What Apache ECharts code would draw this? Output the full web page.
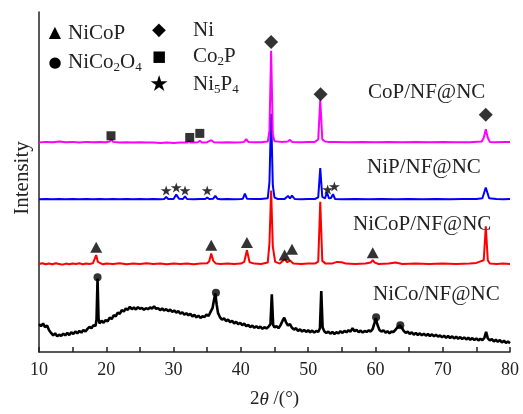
<!DOCTYPE html>
<html>
<head>
<meta charset="utf-8">
<script src="https://cdn.jsdelivr.net/npm/echarts@6/dist/echarts.min.js"></script>
<style>
  html, body { margin: 0; padding: 0; background: #fff; }
  #xrd-chart { width: 523px; height: 414px; }
</style>
</head>
<body>
<div id="xrd-chart"></div>
<script>
/* -----------------------------
   XRD patterns - stacked offsets
   ----------------------------- */

// x ticks (2theta)
const X_TICKS = [10, 20, 30, 40, 50, 60, 70, 80];

// CoP/NF@NC (magenta)
const copData = [
  [10,61.6],[11,61.8],[12,61.7],[13,61.9],[14,61.7],[15,61.8],[16,61.6],[17,61.8],[18,61.7],[19,61.8],
  [20,61.7],[20.5,61.9],[20.75,62.6],[21,61.8],[22,61.6],[23,61.7],[24,61.6],[25,61.7],[26,61.6],[27,61.6],
  [28,61.5],[29,61.6],[30,61.5],[31,61.6],[32,61.6],[32.3,62.0],[32.6,61.6],[33.6,61.7],[33.9,62.1],[34.2,61.6],
  [35,61.7],[35.6,62.3],[36,61.7],[37,61.6],[38,61.7],[39,61.6],[40,61.7],[40.5,61.8],[40.8,62.6],[41.1,61.8],
  [42,61.7],[43,61.7],[44,61.9],[44.25,65],[44.5,88.6],[44.75,64],[45,62],[46,61.8],[47,61.9],[47.3,62.4],
  [47.6,61.8],[49,61.7],[50,61.8],[51,61.8],[51.5,62.5],[51.8,74.1],[52.1,62.6],[52.5,61.9],[53,61.8],[54,61.8],
  [56,61.7],[58,61.8],[60,61.7],[62,61.8],[64,61.7],[66,61.8],[68,61.7],[70,61.8],[72,61.7],[74,61.7],
  [75.8,61.9],[76.1,63],[76.4,65.5],[76.7,63],[77,61.8],[78,61.7],[79,61.8],[80,61.8]
];

// NiP/NF@NC (blue)
const nipData = [
  [10,44.9],[11,45.0],[12,44.9],[13,45.0],[14,44.9],[15,45.0],[16,44.9],[17,45.0],[18,44.9],[19,45.0],
  [20,44.9],[21,45.0],[22,44.9],[23,45.0],[24,44.9],[25,45.0],[26,44.9],[27,45.0],[28,44.9],[28.6,45.0],
  [28.9,45.6],[29.2,45.0],[30,45.0],[30.4,46.3],[30.8,45.1],[31.4,45.0],[31.7,45.8],[32,45.0],[33,44.9],[34,45.0],
  [34.7,45.0],[35,45.4],[35.3,45.0],[35.9,45.1],[36.2,45.9],[36.5,45.1],[37,44.9],[38,45.0],[39,44.9],[40,45.0],
  [40.3,45.1],[40.6,46.6],[40.9,45.1],[42,45.0],[43,45.0],[44,45.2],[44.25,50],[44.5,70.1],[44.75,49],[45,45.4],
  [45.5,45.0],[46.5,45.0],[47,45.9],[47.3,45.2],[47.6,46.0],[48,45.0],[49,44.9],[50,45.0],[51,45.0],[51.5,45.5],
  [51.8,54.1],[52.1,45.6],[52.5,45.2],[52.8,46.9],[53.1,45.2],[53.4,45.3],[53.7,46.4],[54,45.0],[55,44.9],[57,45.0],
  [59,44.9],[61,45.0],[63,44.9],[65,45.0],[67,44.9],[69,45.0],[71,44.9],[73,45.0],[75,45.0],[75.9,45.2],
  [76.4,48.4],[76.9,45.2],[78,45.0],[79,44.9],[80,45.0]
];

// NiCoP/NF@NC (red)
const nicopData = [
  [10,25.9],[10.5,26.1],[11,25.8],[11.5,26.0],[12,25.8],[12.5,26.1],[13,25.9],[13.5,25.7],[14,26.0],[14.5,25.8],
  [15,26.0],[15.5,25.9],[16,26.1],[16.5,25.8],[17,26.0],[17.5,25.9],[18,26.1],[18.25,26.6],[18.5,28.5],[18.75,26.5],
  [19,26.0],[19.5,25.8],[20,26.0],[21,25.9],[22,26.1],[23,25.8],[24,26.0],[25,25.9],[26,26.1],[27,25.9],
  [28,26.0],[29,25.8],[30,26.0],[31,25.9],[32,26.0],[33,25.8],[34,26.0],[35,26.1],[35.3,26.7],[35.6,29.0],
  [35.9,26.8],[36.3,26.0],[37,25.9],[38,26.0],[39,25.9],[40,26.0],[40.5,26.5],[40.9,29.9],[41.3,26.4],[42,26.0],
  [43,25.9],[44,26.3],[44.25,32],[44.5,47.5],[44.75,31],[45.1,26.5],[45.8,26.0],[46.5,27.3],[46.9,26.4],[47.3,26.9],
  [47.8,26.0],[49,25.9],[50,26.0],[51,26.0],[51.5,26.6],[51.8,44.2],[52.1,26.8],[52.6,26.0],[53.5,26.0],[54.3,26.5],
  [55,26.4],[55.6,26.0],[57,25.9],[58.5,26.0],[59.3,26.3],[59.6,27.0],[59.9,26.3],[60.5,25.9],[62,26.0],[63,26.3],
  [64,25.9],[66,26.0],[68,25.9],[70,26.0],[72,25.9],[74,26.0],[75,26.2],[76.1,27],[76.4,37.0],[76.7,27],
  [77,26.0],[78,25.9],[79,26.0],[80,25.9]
];

// NiCo/NF@NC (black, noisy)
const nicoData = [
  [10.0,8.2],[10.3,7.6],[10.6,8.4],[10.9,7.3],[11.2,7.8],[11.5,6.4],[11.8,5.6],[12.1,4.9],[12.4,5.5],[12.7,4.6],
  [13.0,5.1],[13.3,4.7],[13.6,5.4],[13.9,4.9],[14.2,5.6],[14.5,5.0],[14.8,5.8],[15.1,5.3],[15.4,6.0],[15.7,5.5],
  [16.0,6.2],[16.3,5.7],[16.6,6.5],[16.9,6.0],[17.2,6.8],[17.5,7.4],[17.8,7.0],[18.1,7.9],[18.4,7.6],[18.55,9.5],
  [18.7,21.6],[18.85,9.8],[19.0,8.4],[19.3,9.2],[19.6,8.6],[19.9,9.4],[20.2,9.0],[20.5,10.1],[20.8,9.7],[21.1,10.8],
  [21.4,10.5],[21.7,11.6],[22.0,11.2],[22.3,12.3],[22.6,11.9],[22.9,12.8],[23.2,12.4],[23.5,13.3],[23.8,12.6],[24.1,13.1],
  [24.4,12.5],[24.7,13.2],[25.0,12.7],[25.3,13.0],[25.6,12.4],[25.9,12.9],[26.2,12.6],[26.5,13.1],[26.8,12.8],[27.1,13.4],
  [27.4,12.7],[27.7,12.9],[28.0,12.3],[28.3,12.8],[28.6,12.2],[28.9,12.6],[29.2,12.0],[29.5,12.5],[29.8,11.8],[30.1,12.2],
  [30.4,11.6],[30.7,12.0],[31.0,11.3],[31.3,11.7],[31.6,11.0],[31.9,11.4],[32.2,10.8],[32.5,11.2],[32.8,10.5],[33.1,10.9],
  [33.4,10.2],[33.7,10.7],[34.0,10.0],[34.3,10.5],[34.6,10.3],[34.9,11.0],[35.2,10.6],[35.5,11.8],[35.8,13.0],[36.0,15.2],
  [36.2,17.2],[36.4,14.0],[36.6,11.5],[36.9,10.2],[37.2,9.5],[37.5,9.9],[37.8,9.1],[38.1,9.5],[38.4,8.8],[38.7,9.2],
  [39.0,8.4],[39.3,8.9],[39.6,8.2],[39.9,8.6],[40.2,7.9],[40.5,8.4],[40.8,7.6],[41.1,8.0],[41.4,7.3],[41.7,7.8],
  [42.0,7.1],[42.3,7.6],[42.6,7.0],[42.9,7.5],[43.2,6.8],[43.5,7.3],[43.8,6.9],[44.1,7.4],[44.4,8.2],[44.6,17.0],
  [44.8,8.0],[45.0,7.2],[45.3,7.6],[45.6,7.0],[45.9,7.9],[46.2,9.2],[46.45,10.1],[46.7,8.8],[47.0,7.8],[47.3,8.2],
  [47.6,7.1],[47.9,6.6],[48.2,7.0],[48.5,6.2],[48.8,6.7],[49.1,6.0],[49.4,6.5],[49.7,5.9],[50.0,6.4],[50.3,5.8],
  [50.6,6.3],[50.9,5.7],[51.2,6.2],[51.5,5.9],[51.75,7.0],[51.95,17.9],[52.15,7.2],[52.4,6.1],[52.7,5.6],[53.0,6.0],
  [53.3,5.4],[53.6,5.9],[53.9,5.3],[54.2,5.8],[54.5,5.5],[54.8,6.1],[55.1,5.6],[55.4,6.2],[55.7,5.8],[56.0,6.4],
  [56.3,6.0],[56.6,7.0],[56.9,6.1],[57.2,6.5],[57.5,5.8],[57.8,6.3],[58.1,5.7],[58.4,6.2],[58.7,5.9],[59.0,6.4],
  [59.3,6.0],[59.6,6.8],[59.85,8.5],[60.05,10.0],[60.3,8.0],[60.6,6.5],[60.9,6.0],[61.2,6.4],[61.5,5.7],[61.8,6.1],
  [62.1,5.5],[62.4,6.0],[62.7,5.9],[63.0,6.6],[63.3,7.3],[63.6,7.8],[63.9,7.2],[64.2,6.2],[64.5,5.6],[64.8,6.0],
  [65.1,5.3],[65.4,5.8],[65.7,5.1],[66.0,5.6],[66.3,5.0],[66.6,5.5],[66.9,4.9],[67.2,5.4],[67.5,4.8],[67.8,5.3],
  [68.1,4.7],[68.4,5.2],[68.7,4.6],[69.0,5.1],[69.3,4.5],[69.6,4.9],[69.9,4.3],[70.2,4.8],[70.5,4.2],[70.8,4.7],
  [71.1,4.1],[71.4,4.6],[71.7,4.0],[72.0,4.5],[72.3,3.9],[72.6,4.4],[72.9,3.8],[73.2,4.3],[73.5,3.7],[73.8,4.2],
  [74.1,3.6],[74.4,4.1],[74.7,3.5],[75.0,4.0],[75.3,3.4],[75.6,3.9],[75.9,3.5],[76.2,4.2],[76.45,5.9],[76.7,4.0],
  [77.0,3.4],[77.3,3.8],[77.6,3.1],[77.9,3.6],[78.2,3.0],[78.5,3.5],[78.8,2.8],[79.1,3.3],[79.4,2.7],[79.7,3.1],
  [80.0,2.6]
];

// phase markers
const niMarks = [[44.5, 91.2], [51.85, 75.8], [76.4, 69.8]];
const co2pMarks = [[20.7, 63.6], [32.4, 63.1], [33.9, 64.3]];
const ni5p4Marks = [[28.9, 47.5], [30.4, 48.4], [31.7, 47.5], [35.0, 47.5], [52.9, 47.8], [53.9, 48.7]];
const nicopMarks = [[18.5, 30.8], [35.6, 31.4], [40.9, 32.2], [46.5, 28.5], [47.6, 30.2], [59.6, 29.2]];
const nico2o4Marks = [[18.7, 22.0], [36.3, 17.4], [60.1, 10.2], [63.7, 7.9]];

const SERIF = '"Liberation Serif", "Times New Roman", serif';
const STAR = 'path://M50,0 L61,35 L98,35 L68,57 L79,91 L50,70 L21,91 L32,57 L2,35 L39,35 Z';

const chart = echarts.init(document.getElementById("xrd-chart"));

function lineSeries(name, data, color, width) {
  return {
    name, type: "line", data,
    symbol: "none", smooth: false,
    lineStyle: { color, width },
    itemStyle: { color }
  };
}

function markSeries(name, data, symbol, size) {
  return {
    name, type: "scatter", data,
    symbol, symbolSize: size,
    itemStyle: { color: "#000" },
    z: 5
  };
}

// rich text helpers for subscripts
const richMain = { fontSize: 21, fontFamily: SERIF, color: "#222", lineHeight: 24 };
const richSub = { fontSize: 13, fontFamily: SERIF, color: "#222", lineHeight: 8, verticalAlign: "bottom" };

function label(text, x, y) {
  return {
    type: "text", x, y,
    style: {
      text, fill: "#222",
      fontSize: 21, fontFamily: SERIF,
      align: "left", verticalAlign: "middle",
      rich: { a: richMain, s: richSub }
    }
  };
}

function glyph(ch, x, y, size) {
  return {
    type: "text", x, y,
    style: {
      text: ch, fill: "#000",
      fontSize: size, fontFamily: "DejaVu Sans",
      align: "center", verticalAlign: "middle"
    }
  };
}

chart.setOption({
  animation: false,
  backgroundColor: "#fff",
  grid: { left: 39, right: 13, top: 12, bottom: 51 },
  xAxis: {
    type: "value",
    min: X_TICKS[0],
    max: X_TICKS[X_TICKS.length - 1],
    interval: 10,
    name: "{n|2}{i|θ}{n| /(°)}",
    nameLocation: "middle",
    nameGap: 38,
    nameTextStyle: {
      rich: {
        n: { fontSize: 19, fontFamily: SERIF, color: "#222" },
        i: { fontSize: 19, fontFamily: SERIF, fontStyle: "italic", color: "#222" }
      }
    },
    axisLine: { show: true, lineStyle: { color: "#222", width: 1.5 } },
    axisTick: { show: true, inside: true, length: 5, lineStyle: { color: "#222", width: 1.5 } },
    minorTick: { show: true, splitNumber: 2, length: 5, lineStyle: { color: "#222", width: 1.5 } },
    axisLabel: { fontSize: 18, fontFamily: SERIF, color: "#222", margin: 9 },
    splitLine: { show: false }
  },
  yAxis: {
    type: "value",
    min: 0,
    max: 100,
    axisLine: { show: true, lineStyle: { color: "#222", width: 1.5 } },
    axisTick: { show: false },
    axisLabel: { show: false },
    splitLine: { show: false }
  },
  series: [
    lineSeries("NiCo/NF@NC", nicoData, "#000", 2.6),
    lineSeries("NiCoP/NF@NC", nicopData, "#ff0000", 2),
    lineSeries("NiP/NF@NC", nipData, "#0000ff", 2),
    lineSeries("CoP/NF@NC", copData, "#ff00ff", 2),
    markSeries("Ni", niMarks, "diamond", [14, 14]),
    markSeries("Co2P", co2pMarks, "rect", [9, 9]),
    markSeries("Ni5P4", ni5p4Marks, STAR, [11, 10]),
    markSeries("NiCoP", nicopMarks, "triangle", [12, 11]),
    markSeries("NiCo2O4", nico2o4Marks, "circle", 8)
  ],
  graphic: [
    {
      type: "text", x: 22, y: 178, rotation: Math.PI / 2,
      style: {
        text: "Intensity", fill: "#222",
        fontSize: 21, fontFamily: SERIF,
        align: "center", verticalAlign: "middle"
      }
    },
    // phase key
    glyph("▲", 55, 33, 16),
    label("{a|NiCoP}", 68, 33),
    glyph("●", 55, 63, 15),
    label("{a|NiCo}{s|2}{a|O}{s|4}", 68, 62),
    glyph("◆", 159, 30, 18),
    label("{a|Ni}", 193, 30),
    glyph("■", 159, 57, 15),
    label("{a|Co}{s|2}{a|P}", 193, 56),
    glyph("★", 159, 85, 22),
    label("{a|Ni}{s|5}{a|P}{s|4}", 193, 84),
    // curve names
    label("CoP/NF@NC", 368, 92),
    label("NiP/NF@NC", 367, 167),
    label("NiCoP/NF@NC", 353, 224),
    label("NiCo/NF@NC", 373, 294)
  ]
});
</script>
</body>
</html>
